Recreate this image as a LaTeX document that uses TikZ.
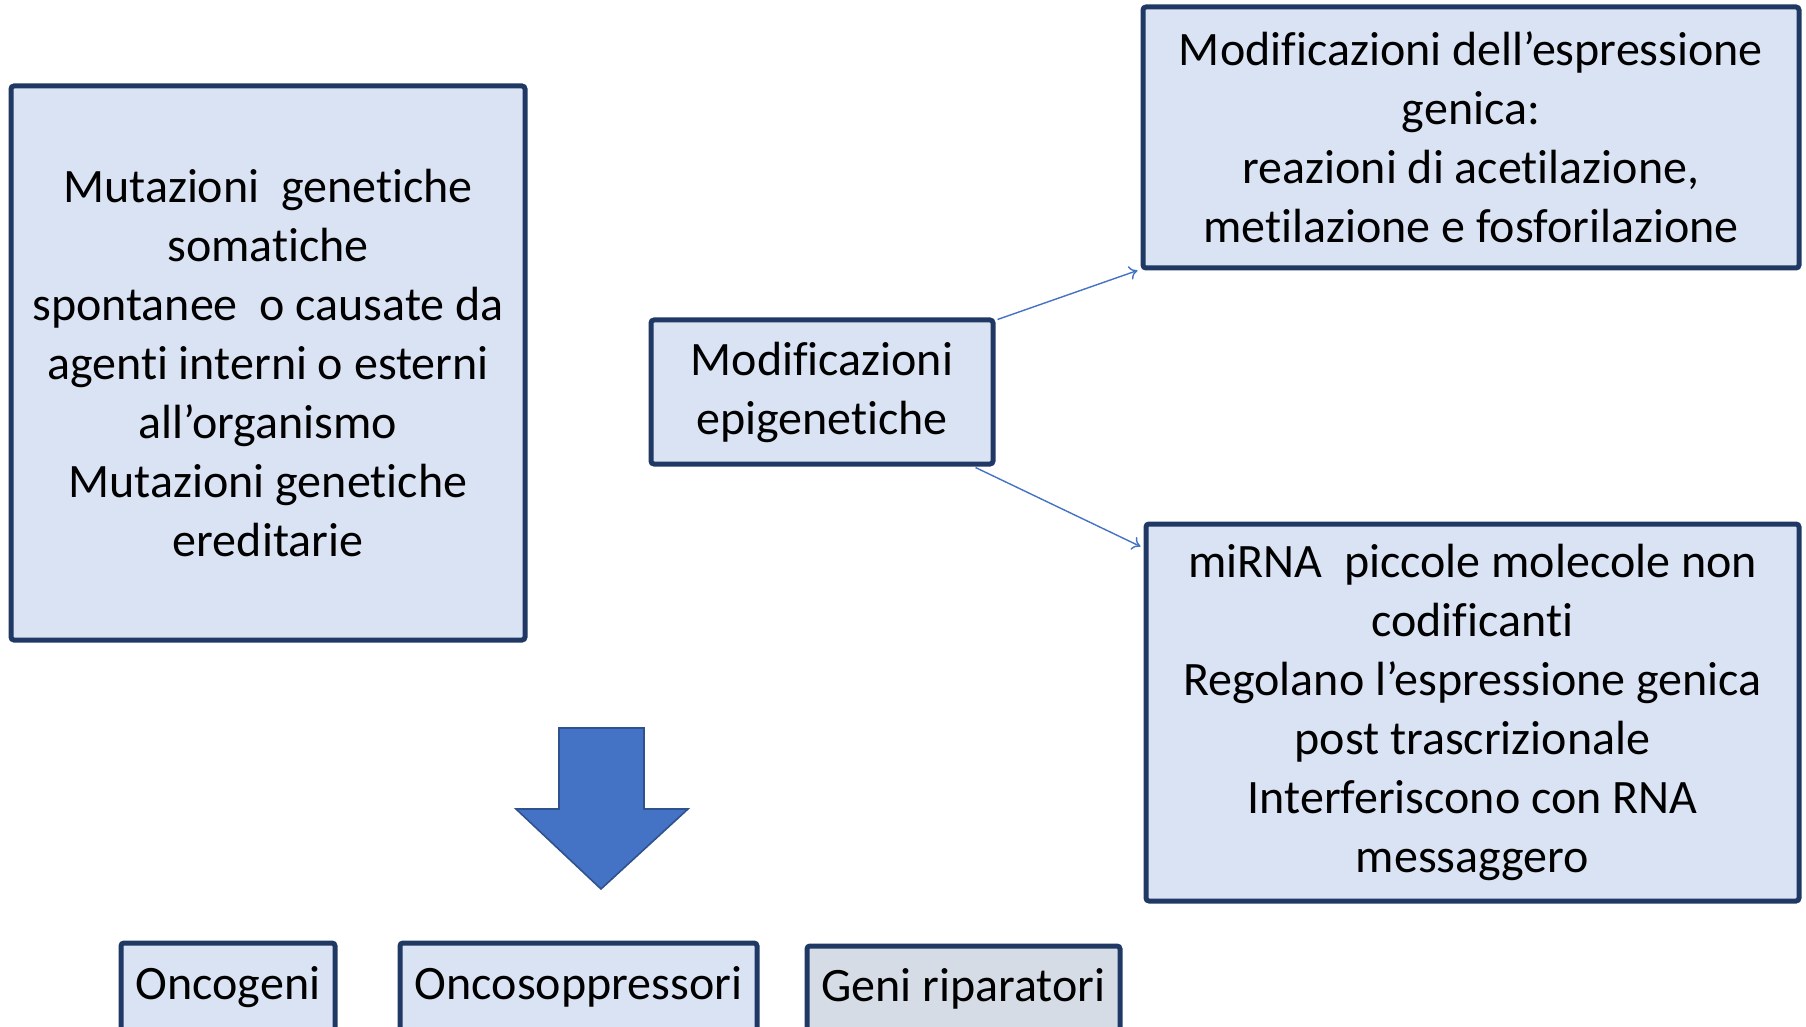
\documentclass[tikz,border=0pt]{standalone}
\usepackage{fontspec}
\setmainfont{Carlito}[Ligatures={NoCommon,NoContextual},RawFeature={-calt;-dlig}]
\usetikzlibrary{arrows.meta,calc}
\definecolor{boxfill}{HTML}{DAE3F3}
\definecolor{grayfill}{HTML}{D6DCE5}
\definecolor{boxline}{HTML}{1F3864}
\definecolor{arrowblue}{HTML}{4472C4}
\definecolor{arrowedge}{HTML}{2F528F}
\begin{document}
\begin{tikzpicture}[x=0.5pt,y=-0.5pt,
  box/.style={draw=boxline, fill=boxfill, line width=2.5pt, rounded corners=1.5pt,
    align=center, inner sep=0pt, font=\fontsize{24}{29.5}\selectfont},
  link/.style={draw=arrowblue, line width=0.7pt, -{To[length=4pt,width=7pt]}},
  bigarrow/.style={fill=arrowblue, draw=arrowedge, line width=0.8pt}]
\useasboundingbox (0,0) rectangle (1806,1027);
\clip (0,0) rectangle (1806,1027);

\node[box, minimum width=257pt, minimum height=277pt] (mut) at (268,363)
  {Mutazioni\ \ genetiche\\somatiche\\spontanee\ \ o causate da\\agenti interni o esterni\\all’organismo\\Mutazioni genetiche\\ereditarie};

\node[box, minimum width=171pt, minimum height=72pt] (epi) at (822,392)
  {Modificazioni\\epigenetiche};

\node[box, minimum width=328pt, minimum height=130.5pt] (expr) at (1471,137.5)
  {Modificazioni dell’espressione\\genica:\\reazioni di acetilazione,\\metilazione e fosforilazione};

\node[box, minimum width=326.5pt, minimum height=188.5pt] (mirna) at (1472.5,712.5)
  {miRNA\ \ piccole molecole non\\codificanti\\Regolano l’espressione genica\\post trascrizionale\\Interferiscono con RNA\\messaggero};

\node[box, minimum width=107pt, minimum height=44pt] (onco) at (228,987) {Oncogeni};
\node[box, minimum width=178.5pt, minimum height=44pt] (sopp) at (578.5,987) {Oncosoppressori};
\node[box, fill=grayfill, minimum width=156.5pt, minimum height=42.5pt] (ripa) at (963.5,988.5) {Geni riparatori};

\draw[link] ($(epi.north east)+(2,2)$) -- ($(expr.south west)+(-3,0)$);
\draw[link] ($(epi.south east)+(-20,1)$) -- ($(mirna.north west)+(-3,25)$);

\draw[bigarrow] (559,728) -- (644,728) -- (644,809) -- (688,809) -- (601,889)
  -- (516,809) -- (559,809) -- cycle;
\end{tikzpicture}
\end{document}
